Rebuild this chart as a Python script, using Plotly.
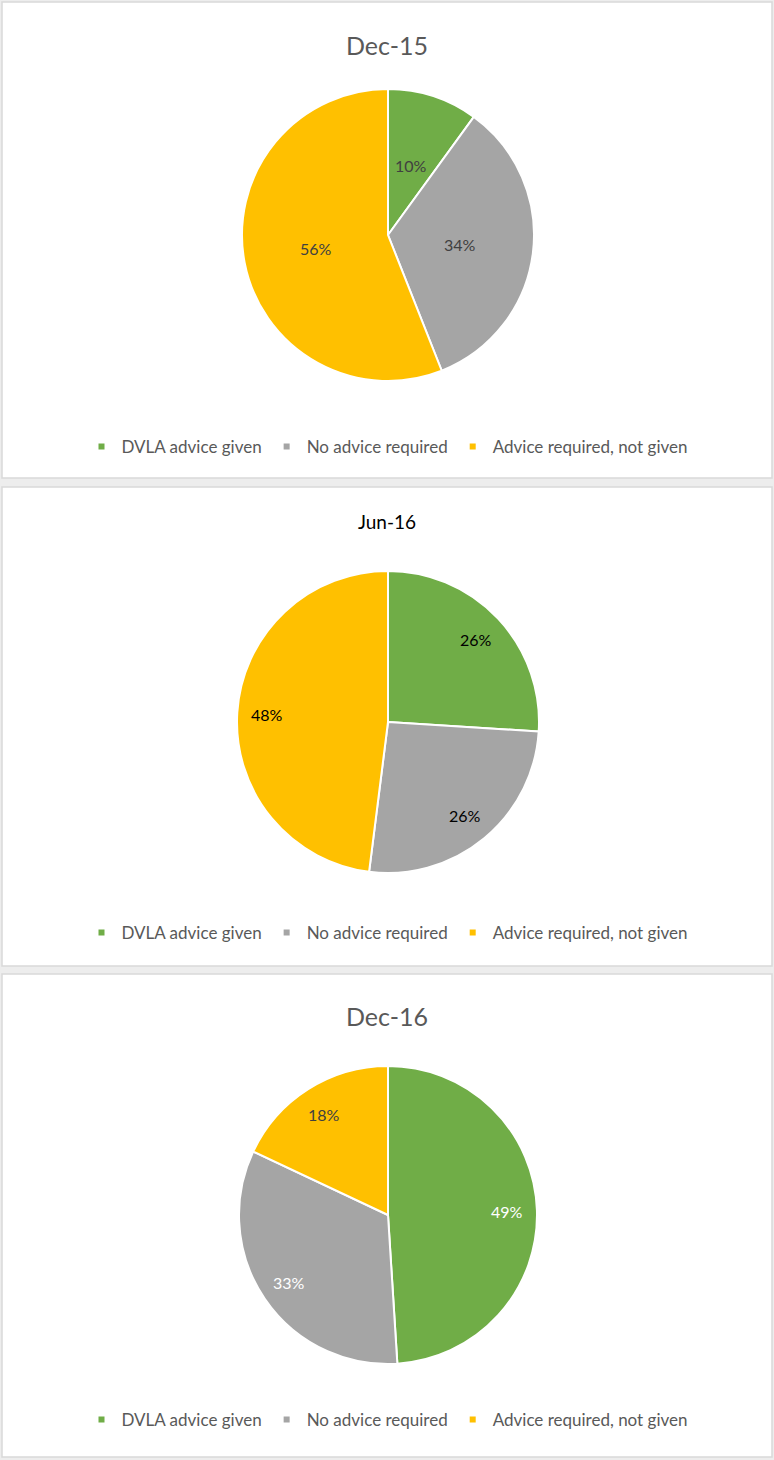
import math
import plotly.graph_objects as go

labels = ["DVLA advice given", "No advice required", "Advice required, not given"]
colors = ["#70AD47", "#A5A5A5", "#FFC000"]

titles = ["Dec-15", "Jun-16", "Dec-16"]
dec15 = [10, 34, 56]
jun16 = [26, 26, 48]
dec16 = [49, 33, 18]

W, H = 774, 1460
CX = 388


def py(px):
    # pixel row -> paper y
    return 1 - px / H


def px_x(px):
    return px / W


fig = go.Figure()

# (values, centre y, radius, label radial pos, label colours, title y, title size, title colour, legend y, panel top, panel bottom)
panels = [
    (dec15, 235, 146, 0.5, ["#404040"] * 3, 45, 25, "#595959", 447, 2, 478),
    (jun16, 722, 151, 0.8, ["#000000"] * 3, 521, 19, "#000000", 933, 487, 966),
    (dec16, 1215, 149, 0.8, ["#FFFFFF", "#FFFFFF", "#404040"], 1016, 25, "#595959", 1420, 974, 1457),
]

for i, (vals, cy, r, lpos, tcol, ty, tsize, tcolor, ly, top, bot) in enumerate(panels):
    leg = "legend" if i == 0 else f"legend{i + 1}"
    fig.add_trace(go.Pie(
        labels=labels,
        values=vals,
        sort=False,
        direction="clockwise",
        rotation=0,
        marker=dict(colors=colors, line=dict(color="white", width=2)),
        textinfo="none",
        domain=dict(x=[px_x(CX - r), px_x(CX + r)], y=[py(cy + r), py(cy - r)]),
        showlegend=False,
        hoverinfo="label+percent",
    ))
    # data labels placed like Excel's (centre of each slice at a fraction of the radius)
    total = sum(vals)
    cum = 0
    for v, c in zip(vals, tcol):
        ang = 2 * math.pi * (cum + v / 2) / total
        cum += v
        lx = CX + lpos * r * math.sin(ang)
        ly_ = cy - lpos * r * math.cos(ang)
        fig.add_annotation(text=f"{v}%", xref="paper", yref="paper",
                           x=px_x(lx), y=py(ly_), showarrow=False,
                           xanchor="center", yanchor="middle",
                           font=dict(size=16, color=c, family="Lato"))
    # legend entries (pie legends merge across traces, so use dummy markers)
    for lab, col in zip(labels, colors):
        fig.add_trace(go.Scatter(
            x=[None], y=[None], mode="markers", name=lab,
            marker=dict(symbol="square", size=6, color=col),
            legend=leg, showlegend=True, hoverinfo="skip",
        ))
    fig.add_shape(type="rect", xref="paper", yref="paper",
                  x0=px_x(2), x1=px_x(772), y0=py(bot), y1=py(top),
                  fillcolor="white", line=dict(color="#D9D9D9", width=1.5), layer="below")
    fig.add_annotation(text=titles[i], xref="paper", yref="paper", x=0.5, y=py(ty),
                       xanchor="center", yanchor="middle", showarrow=False,
                       font=dict(size=tsize, color=tcolor, family="Lato"))
    fig.update_layout({leg: dict(
        orientation="h", x=0.5, xanchor="center", y=py(ly), yanchor="middle",
        font=dict(size=17, color="#595959", family="Lato"),
        bgcolor="rgba(0,0,0,0)", itemclick=False, itemdoubleclick=False,
        itemsizing="trace", itemwidth=30,
    )})

fig.update_layout(
    width=W, height=H,
    margin=dict(l=0, r=0, t=0, b=0),
    paper_bgcolor="#EDEDED",
    plot_bgcolor="rgba(0,0,0,0)",
    xaxis=dict(visible=False),
    yaxis=dict(visible=False),
    showlegend=True,
)

fig.write_html("out.html", config={"displayModeBar": False},
               post_script="document.body.style.margin='0';")
